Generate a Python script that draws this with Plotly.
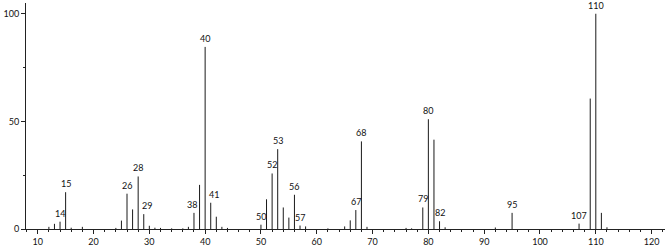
import plotly.graph_objects as go

# m/z values and relative intensities
mz = [12, 13, 14, 15, 16, 18, 24, 25, 26, 27, 28, 29, 30, 31, 32, 34, 36, 37, 38, 39, 40, 41, 42, 43, 44,
      50, 51, 52, 53, 54, 55, 56, 57, 58, 62, 65, 66, 67, 68, 69, 76, 77, 79, 80, 81, 82, 83,
      92, 95, 107, 109, 110, 111, 112]
intensity = [1.0, 2.4, 3.4, 17.1, 0.6, 1.0, 0.5, 3.9, 16.4, 9.1, 24.4, 6.9, 1.5, 0.6, 0.5, 0.3, 0.3, 1.0, 7.5, 20.5, 84.6, 12.2, 5.7, 1.0, 0.5,
             2.0, 13.8, 25.8, 37.1, 10.0, 5.3, 15.9, 1.6, 1.2, 0.3, 1.2, 4.0, 8.8, 40.7, 1.0, 0.5, 0.3, 10.0, 51.0, 41.5, 3.6, 0.8,
             0.7, 7.5, 2.5, 60.6, 100.0, 7.5, 0.8]
labeled = [14, 15, 26, 28, 29, 38, 40, 41, 50, 52, 53, 56, 57, 67, 68, 79, 80, 82, 95, 107, 110]
label_dx = {29: 0.6, 41: 0.5, 38: -0.3}

x_major = [10, 20, 30, 40, 50, 60, 70, 80, 90, 100, 110, 120]
y_major = [0, 50, 100]

font = dict(family="Lato, DejaVu Sans, sans-serif", size=9, color="#111")

# stick spectrum: vertical segments from baseline to each intensity
sx, sy = [], []
for m, h in zip(mz, intensity):
    sx += [m, m, None]
    sy += [0, h, None]

fig = go.Figure()
fig.add_trace(go.Scatter(
    x=sx, y=sy, mode="lines",
    line=dict(color="#1a1a1a", width=1),
    hoverinfo="skip",
))

lookup = dict(zip(mz, intensity))
for m in labeled:
    fig.add_annotation(
        x=m + label_dx.get(m, 0), y=lookup[m], text=str(m), showarrow=False,
        yanchor="bottom", xanchor="center", yshift=1, font=font,
    )

fig.update_layout(
    width=667, height=249,
    margin=dict(l=26, r=2, t=3, b=17),
    paper_bgcolor="white", plot_bgcolor="white",
    showlegend=False,
    font=font,
)
fig.update_xaxes(
    range=[7.9, 122.4], tickmode="array", tickvals=x_major,
    ticks="outside", ticklen=4, tickcolor="#222", tickwidth=1,
    minor=dict(dtick=2, tick0=0, ticks="outside", ticklen=2, tickcolor="#222", showgrid=False),
    showline=True, linecolor="#222", linewidth=1, showgrid=False, zeroline=False,
    tickfont=font,
)
fig.update_yaxes(
    range=[0, 105], tickmode="array", tickvals=y_major,
    ticks="outside", ticklen=4, tickcolor="#222", tickwidth=1,
    minor=dict(tickvals=[25, 75], ticks="outside", ticklen=2, tickcolor="#222", showgrid=False),
    showline=True, linecolor="#222", linewidth=1, showgrid=False, zeroline=False,
    tickfont=font,
)

fig.write_html("out.html")
